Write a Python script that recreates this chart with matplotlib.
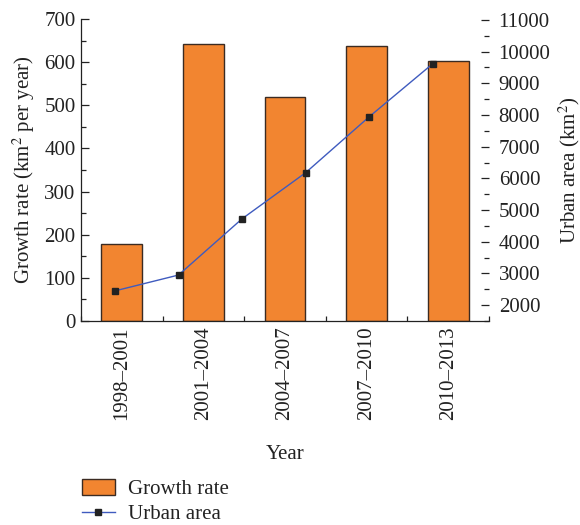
import matplotlib
matplotlib.use("Agg")
import matplotlib.pyplot as plt
from matplotlib.ticker import MultipleLocator
from matplotlib.patches import Patch
from matplotlib.lines import Line2D

periods = ["1998\u20132001", "2001\u20132004", "2004\u20132007", "2007\u20132010", "2010\u20132013"]
growth_rate = [179, 643, 520, 638, 603]
years = [1998, 2001, 2004, 2007, 2010, 2013]
urban_area = [2450, 2950, 4725, 6180, 7945, 9620]

plt.rcParams['font.family'] = ['Liberation Serif', 'DejaVu Serif']
plt.rcParams['font.size'] = 15
plt.rcParams['mathtext.fontset'] = 'stix'

fig = plt.figure(figsize=(5.8, 5.25), dpi=100)
pos = [0.1397, 0.3886, 0.7033, 0.5752]
ax = fig.add_axes(pos)

orange = '#F28530'
edge = '#3b2b22'
blue = '#3F5BBF'
dark = '#222222'

x = list(range(len(periods)))
ax.bar(x, growth_rate, width=0.5, color=orange, edgecolor=edge, linewidth=1.0, zorder=2)
ax.set_xlim(-0.5, 4.5)
ax.set_ylim(0, 700)
ax.set_xticks(x)
ax.set_xticklabels(periods, rotation=90)
ax.xaxis.set_minor_locator(MultipleLocator(0.5))
ax.yaxis.set_major_locator(MultipleLocator(100))
ax.yaxis.set_minor_locator(MultipleLocator(50))
ax.tick_params(axis='both', which='major', direction='in', length=6, width=0.9, color=dark, labelcolor=dark, pad=4)
ax.tick_params(axis='both', which='minor', direction='in', length=3.5, width=0.9, color=dark)
ax.tick_params(axis='y', which='both', right=False)
ax.tick_params(axis='x', which='both', top=False)
ax.spines['top'].set_visible(False)
ax.spines['right'].set_visible(False)
for s in ['left', 'bottom']:
    ax.spines[s].set_color(dark)
    ax.spines[s].set_linewidth(0.9)
ax.set_ylabel("Growth rate (km$^2$ per year)", color=dark, labelpad=5)
ax.set_xlabel("Year", color=dark, labelpad=18)

ax2 = fig.add_axes(pos, frameon=False)
ax2.plot(years, urban_area, color=blue, linewidth=1.0, marker='s', markersize=5,
         markerfacecolor=dark, markeredgecolor=dark, zorder=3)
ax2.set_xlim(1996.4, 2015.65)
ax2.set_ylim(1500, 11030)
ax2.xaxis.set_visible(False)
ax2.yaxis.tick_right()
ax2.yaxis.set_label_position('right')
ax2.spines['right'].set_visible(True)
ax2.spines['right'].set_color(dark)
ax2.spines['right'].set_linewidth(0.9)
ax2.set_yticks(range(2000, 11001, 1000))
ax2.yaxis.set_minor_locator(MultipleLocator(500))
ax2.tick_params(axis='y', which='major', direction='in', length=6, width=0.9, color=dark, labelcolor=dark, pad=7)
ax2.tick_params(axis='y', which='minor', direction='in', length=3.5, width=0.9, color=dark)
ax2.set_ylabel("Urban area (km$^2$)", color=dark, labelpad=4)

handles = [Patch(facecolor=orange, edgecolor=edge, linewidth=1.0),
           Line2D([], [], color=blue, linewidth=1.0, marker='s', markersize=4,
                  markerfacecolor=dark, markeredgecolor=dark)]
fig.legend(handles, ["Growth rate", "Urban area"], loc='upper left',
           bbox_to_anchor=(0.141, 0.088), frameon=False, handlelength=1.6,
           handleheight=0.8, labelspacing=0.25, borderaxespad=0, borderpad=0,
           handletextpad=0.6, fontsize=15, labelcolor=dark)

fig.savefig("out.png", dpi=100)
